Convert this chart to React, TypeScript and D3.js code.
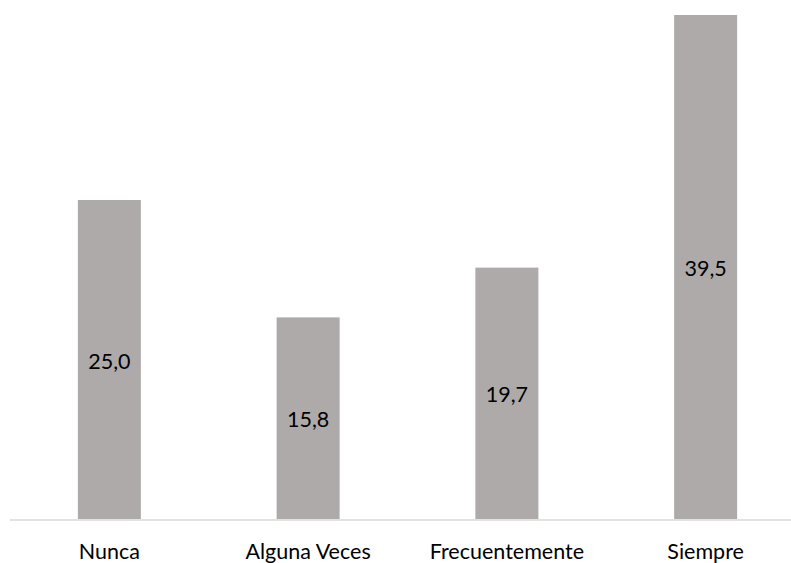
import React from "react";
import * as d3 from "d3";

const categories = ["Nunca", "Alguna Veces", "Frecuentemente", "Siempre"];
const values = [25.0, 15.8, 19.7, 39.5];
const valueLabels = ["25,0", "15,8", "19,7", "39,5"];

const W = 791;
const H = 563;
const FONT = "Lato, 'Open Sans', sans-serif";

export default function App() {
  const x = d3
    .scaleBand<string>()
    .domain(categories)
    .range([10, 805])
    .paddingInner(0.683)
    .paddingOuter(0.3415);
  const y = d3.scaleLinear().domain([0, 39.5]).range([519, 15]);

  return (
    <svg
      width={W}
      height={H}
      style={{ position: "absolute", left: 0, top: 0, background: "#fff" }}
    >
      <rect x={0} y={0} width={W} height={H} fill="#fff" />
      {categories.map((c, i) => (
        <rect
          key={c}
          x={x(c)}
          y={y(values[i])}
          width={x.bandwidth()}
          height={y(0) - y(values[i])}
          fill="#AEAAAA"
        />
      ))}
      <line x1={10} x2={W} y1={520} y2={520} stroke="#D9D9D9" strokeWidth={1.5} />
      {categories.map((c, i) => (
        <text
          key={"v" + c}
          x={(x(c) as number) + x.bandwidth() / 2}
          y={(y(values[i]) + y(0)) / 2 + 9}
          textAnchor="middle"
          fontFamily={FONT}
          fontSize={21.5}
          fill="#000"
        >
          {valueLabels[i]}
        </text>
      ))}
      {categories.map((c) => (
        <text
          key={"l" + c}
          x={(x(c) as number) + x.bandwidth() / 2}
          y={559}
          textAnchor="middle"
          fontFamily={FONT}
          fontSize={21.5}
          fill="#000"
        >
          {c}
        </text>
      ))}
    </svg>
  );
}
